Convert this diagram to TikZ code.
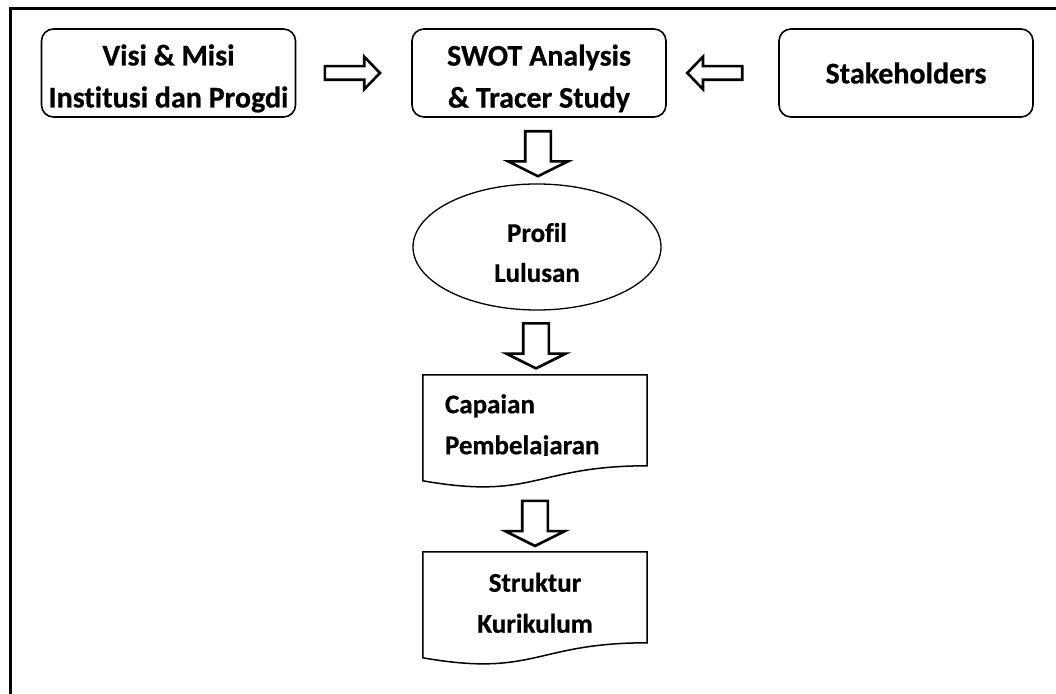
\documentclass[tikz,border=0pt]{standalone}
\usepackage{fontspec}
\setmainfont{Carlito}[Ligatures=NoCommon, BoldFeatures={FakeBold=0.6}]
\usepackage{tikz}
\usetikzlibrary{shapes.geometric, shapes.arrows, calc}

\begin{document}
\begin{tikzpicture}[x=1pt, y=1pt,
        roundbox/.style={draw, line width=1.6pt, rounded corners=12pt,
            minimum width=254pt, minimum height=88pt, inner sep=0pt, align=center,
            font=\fontsize{30}{42}\selectfont\bfseries},
        docbox/.style={minimum width=224pt, minimum height=113.5pt, inner sep=0pt,
            font=\fontsize{27}{41}\selectfont\bfseries},
        dropstrut/.style={execute at begin node={\rule{0pt}{#1}}},
        liftstrut/.style={execute at end node={\rule[-#1]{0pt}{0pt}}},
        fatright/.style={draw, fill=white, line width=2.6pt, single arrow,
            single arrow head extend=9.5pt, single arrow tip angle=92,
            minimum height=55pt, minimum width=30pt, inner sep=5.5pt},
        fatdown/.style={draw, fill=white, line width=2.6pt, single arrow,
            shape border rotate=270, single arrow head extend=17pt,
            single arrow tip angle=127, minimum height=45pt, minimum width=57pt,
            inner sep=11.5pt}]
            \useasboundingbox (0,0) rectangle (1056,693);

            % draw outer frame
            \draw[line width=3pt] (10,-5) -- (10,684.3) -- (1062,684.3);

            % draw top row
            \node[roundbox, dropstrut=74pt] (visi)  at (168.5,620) {Visi \& Misi\\Institusi dan Progdi};
            \node[roundbox, dropstrut=74pt] (swot)  at (539,620)   {SWOT Analysis\\\& Tracer Study};
            \node[roundbox] (stake) at (906,620) {Stakeholders};

            % draw profile ellipse
            \node[draw, ellipse, line width=1.3pt, minimum width=248pt, minimum height=126pt,
                  inner sep=0pt, align=center, font=\fontsize{27}{40}\selectfont\bfseries,
                  dropstrut=70pt] (profil) at (537,446) {Profil\\Lulusan};

            % draw documents
            \begin{scope}
                \clip (423,237) rectangle (647,318);
                \node[docbox, text width=180pt, align=left, liftstrut=15pt] (capaian)
                      at (535,261.25) {Capaian\\Pembelajaran};
            \end{scope}
            \node[docbox, align=center, liftstrut=12pt] (struktur) at (535,84.25)
                  {Struktur\\Kurikulum};

            \foreach \doc in {capaian, struktur}
                \draw[line width=1.5pt] (\doc.north west) -- (\doc.north east)
                    -- ($(\doc.north east)+(0,-91)$)
                    .. controls ($(\doc.north)+(0,-91)$) and ($(\doc.north)+(0,-125.7)$)
                    .. ($(\doc.north west)+(0,-106)$) -- cycle;

            % draw block arrows
            \node[fatright] (arr1) at ($(visi.east)!0.46!(swot.west)$) {};
            \node[fatright, shape border rotate=180] (arr2) at ($(swot.east)!0.46!(stake.west)$) {};
            \node[fatdown] (arr3) at ($(swot.south)!0.5!(profil.north)$) {};
            \node[fatdown] (arr4) at ($(profil.south)!0.5!(capaian.north)$) {};
            \node[fatdown] (arr5) at ($(capaian.south)!0.5!(struktur.north)$) {};
        \end{tikzpicture}
\end{document}
